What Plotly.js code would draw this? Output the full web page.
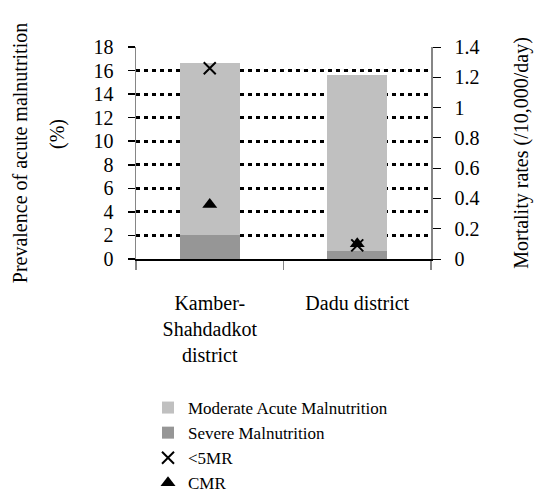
<!DOCTYPE html>
<html>
<head>
<meta charset="utf-8">
<script src="https://cdn.plot.ly/plotly-3.0.1.min.js"></script>
<style>
  html, body { margin: 0; padding: 0; background: #fff; }
  #chart { width: 540px; height: 497px; }
</style>
</head>
<body>
<div id="chart"></div>
<script>
// ---- data ----
const categories = ["Kamber-<br>Shahdadkot<br>district", "Dadu district"];
const severeMalnutrition = [2.05, 0.7];
const moderateMalnutrition = [14.55, 14.9];
const under5MR = [1.26, 0.09];
const cmr = [0.36, 0.1];
const leftTicks = [0, 2, 4, 6, 8, 10, 12, 14, 16, 18];
const rightTicks = [0, 0.2, 0.4, 0.6, 0.8, 1, 1.2, 1.4];

const FONT = "'Liberation Serif', 'Times New Roman', Times, serif";

const traces = [
  {
    type: "bar", name: "Severe Malnutrition", x: categories, y: severeMalnutrition,
    marker: { color: "#969696" }, legendrank: 2, hoverinfo: "skip"
  },
  {
    type: "bar", name: "Moderate Acute Malnutrition", x: categories, y: moderateMalnutrition,
    marker: { color: "#c0c0c0" }, legendrank: 1, hoverinfo: "skip"
  },
  {
    type: "scatter", mode: "markers", name: "<5MR", x: categories, y: under5MR, yaxis: "y2",
    marker: { symbol: "x-thin", size: 12, color: "#000", line: { width: 2, color: "#000" } },
    legendrank: 3, hoverinfo: "skip"
  },
  {
    type: "scatter", mode: "markers", name: "CMR", x: categories, y: cmr, yaxis: "y2",
    marker: { symbol: "triangle-up", size: 13, color: "#000" },
    legendrank: 4, hoverinfo: "skip"
  }
];

const W = 540, H = 497;
const PL = 136, PR = 431, PT = 47, PB = 259;
const PW = PR - PL, PH = PB - PT;

const layout = {
  width: W, height: H,
  margin: { l: PL, r: W - PR, t: PT, b: H - PB },
  paper_bgcolor: "#fff", plot_bgcolor: "#fff",
  font: { family: FONT, size: 20, color: "#000" },
  barmode: "stack",
  bargap: 0.59,
  showlegend: true,
  legend: {
    xref: "paper", yref: "container",
    x: (148 - PL) / PW, y: 1 - 390 / H, xanchor: "left", yanchor: "top",
    font: { family: FONT, size: 17, color: "#000" },
    bgcolor: "rgba(0,0,0,0)", borderwidth: 0,
    traceorder: "normal", itemwidth: 30
  },
  xaxis: {
    type: "category",
    showline: true, linecolor: "#000", linewidth: 1.5,
    ticks: "outside", tickson: "boundaries", ticklen: 9, tickcolor: "#868686", tickwidth: 1.5,
    tickfont: { family: FONT, size: 20 }, tickangle: 0,
    ticklabelstandoff: 25,
    showgrid: false, zeroline: false, automargin: false
  },
  yaxis: {
    range: [0, 18], tickvals: leftTicks, ticktext: leftTicks.map(String),
    showline: true, linecolor: "#868686", linewidth: 1.5,
    ticks: "outside", ticklen: 7, tickcolor: "#000", tickwidth: 1.5,
    tickfont: { family: FONT, size: 20 },
    ticklabelstandoff: 10,
    showgrid: true, gridcolor: "#000", gridwidth: 3, griddash: "4px,4px",
    zeroline: false, automargin: false,
    title: { text: "Prevalence of acute malnutrition", font: { family: FONT, size: 20 }, standoff: 60 }
  },
  yaxis2: {
    overlaying: "y", side: "right", range: [0, 1.4], tickvals: rightTicks, ticktext: rightTicks.map(String),
    showline: true, linecolor: "#868686", linewidth: 1.5,
    ticks: "outside", ticklen: 8, tickcolor: "#000", tickwidth: 1,
    tickfont: { family: FONT, size: 20 },
    ticklabelstandoff: 10,
    showgrid: false, zeroline: false, automargin: false,
    title: { text: "Mortality rates (/10,000/day)", font: { family: FONT, size: 20 }, standoff: 35 }
  },
  annotations: [
    {
      xref: "paper", yref: "paper", x: (57 - PL) / PW, y: (PB - 134) / PH,
      text: "(%)", textangle: -90, showarrow: false,
      font: { family: FONT, size: 20, color: "#000" }, xanchor: "center", yanchor: "middle"
    }
  ]
};

Plotly.newPlot("chart", traces, layout, { displayModeBar: false, staticPlot: true });
</script>
</body>
</html>
